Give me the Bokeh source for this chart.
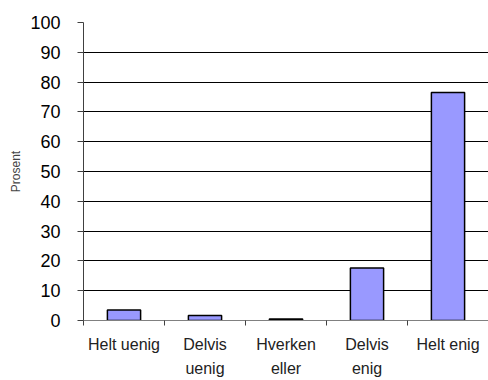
import numpy as np
from bokeh.plotting import figure
from bokeh.models import FixedTicker, LinearAxis, Range1d, ColumnDataSource
from bokeh.embed import file_html
from bokeh.resources import INLINE

categories = ["Helt uenig", "Delvis\nuenig", "Hverken\neller", "Delvis\nenig", "Helt enig"]
values = [3.5, 1.7, 0.5, 17.6, 76.5]
y_ticks = [0, 10, 20, 30, 40, 50, 60, 70, 80, 90, 100]

n = len(categories)
centers = [i + 0.5 for i in range(n)]
src = ColumnDataSource(dict(x=centers, top=values))

p = figure(width=488, height=380, output_backend="svg", toolbar_location=None,
           x_range=Range1d(0, n), y_range=Range1d(0, 100),
           x_axis_type=None, min_border_left=83, min_border_right=0,
           min_border_top=22, min_border_bottom=60)
p.outline_line_color = None
p.background_fill_color = "white"
p.border_fill_color = "white"

p.vbar(x="x", top="top", width=0.41, source=src, fill_color="#9999FF",
       line_color="black", line_width=1.5)

# y axis
ya = p.yaxis[0]
ya.ticker = FixedTicker(ticks=y_ticks)
ya.minor_tick_line_color = None
ya.major_tick_in = 0
ya.major_tick_out = 6
ya.axis_line_color = "#404040"
ya.major_tick_line_color = "#404040"
ya.major_label_text_font = "Liberation Sans"
ya.major_label_text_font_size = "18px"
ya.major_label_text_color = "black"
ya.major_label_standoff = 17
ya.axis_label = "Prosent"
ya.axis_label_text_font = "Liberation Sans"
ya.axis_label_text_font_size = "12px"
ya.axis_label_text_font_style = "normal"
ya.axis_label_standoff = 4

p.ygrid.ticker = FixedTicker(ticks=y_ticks)
p.ygrid.grid_line_color = "black"
p.ygrid.grid_line_width = 1
p.xgrid.visible = False

# x axis: labels at centers, boundary ticks as minor ticks
xl = LinearAxis(ticker=FixedTicker(ticks=centers, minor_ticks=list(range(n + 1))),
                major_label_overrides={c: lab for c, lab in zip(centers, categories)})
xl.axis_line_color = "#808080"
xl.major_tick_line_color = None
xl.major_tick_out = 5
xl.major_tick_in = 0
xl.minor_tick_line_color = "#404040"
xl.minor_tick_out = 5
xl.minor_tick_in = 0
xl.major_label_text_font = "Liberation Sans"
xl.major_label_text_font_size = "16px"
xl.major_label_text_line_height = 1.45
xl.major_label_text_color = "#222222"
xl.major_label_standoff = 10
p.add_layout(xl, "below")

open("out.html", "w").write(file_html(p, INLINE))
